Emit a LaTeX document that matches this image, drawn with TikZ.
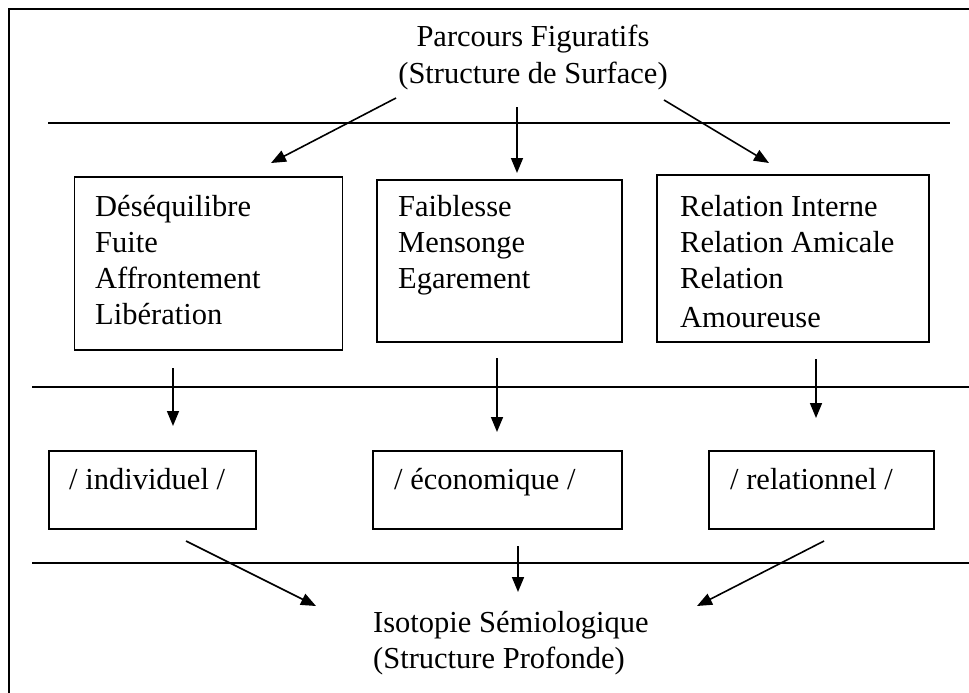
\documentclass[tikz,border=0pt]{standalone}
\usepackage{fontspec}
\setmainfont{Liberation Serif}
\usetikzlibrary{arrows.meta}
\begin{document}
\begin{tikzpicture}[x=1pt,y=-1pt,
  txt/.style={font=\fontsize{30.5}{36}\selectfont, inner sep=0pt},
  frm/.style={draw, line width=1.5pt, inner sep=0pt},
  rule/.style={line width=1.5pt},
  arr/.style={line width=1.6pt, -{Triangle[length=15pt,width=12pt]}}]
\useasboundingbox (0,0) rectangle (969,693);
% outer frame: only its top and left sides lie on the page
\draw[line width=2pt] (9,700) -- (9,9) -- (980,9);

% heading
\node[txt, anchor=base] (h1) at (533,47) {Parcours Figuratifs};
\node[txt, anchor=base] (h2) at (533,83) {(Structure de Surface)};

% closing caption
\node[txt, anchor=base west] (f1) at (373,632) {Isotopie Sémiologique};
\node[txt, anchor=base west] (f2) at (373,668) {(Structure Profonde)};

% separating rules
\draw[rule] (48,123) -- (950,123);
\draw[rule] (32,387) -- (975,387);
\draw[rule] (32,563) -- (975,563);

% upper boxes
\node[frm, minimum width=268pt, minimum height=173pt] (b1) at (208.5,263.5) {};
\node[frm, minimum width=245pt, minimum height=162pt] (b2) at (499.5,261) {};
\node[frm, minimum width=272pt, minimum height=167pt] (b3) at (793,258.5) {};

\node[txt, anchor=base west] (t11) at (95,216) {Déséquilibre};
\node[txt, anchor=base west] (t12) at (95,252) {Fuite};
\node[txt, anchor=base west] (t13) at (95,288) {Affrontement};
\node[txt, anchor=base west] (t14) at (95,324) {Libération};

\node[txt, anchor=base west] (t21) at (398,216) {Faiblesse};
\node[txt, anchor=base west] (t22) at (398,252) {Mensonge};
\node[txt, anchor=base west] (t23) at (398,288) {Egarement};

\node[txt, anchor=base west] (t31) at (680,216) {Relation Interne};
\node[txt, anchor=base west] (t32) at (680,252) {Relation Amicale};
\node[txt, anchor=base west] (t33) at (680,288) {Relation};
\node[txt, anchor=base west] (t34) at (680,327) {Amoureuse};

% lower boxes
\node[frm, minimum width=207pt, minimum height=78pt] (c1) at (152.5,490) {};
\node[frm, minimum width=249pt, minimum height=78pt] (c2) at (497.5,490) {};
\node[frm, minimum width=225pt, minimum height=78pt] (c3) at (821.5,490) {};
\node[txt, anchor=base west] (u1) at (69,489) {/ individuel /};
\node[txt, anchor=base west] (u2) at (394,489) {/ économique /};
\node[txt, anchor=base west] (u3) at (730,489) {/ relationnel /};

% arrow end points
\coordinate (a1s) at (396,98);  \coordinate (a1e) at (271,163);
\coordinate (a2s) at (517,107); \coordinate (a2e) at (517,173);
\coordinate (a3s) at (664,100); \coordinate (a3e) at (769,163);
\coordinate (d1s) at (173,368); \coordinate (d1e) at (173,426);
\coordinate (d2s) at (497,358); \coordinate (d2e) at (497,432);
\coordinate (d3s) at (816,359); \coordinate (d3e) at (816,418);
\coordinate (e1s) at (186,541); \coordinate (e1e) at (316,606);
\coordinate (e2s) at (518,546); \coordinate (e2e) at (518,592);
\coordinate (e3s) at (824,541); \coordinate (e3e) at (697,606);

\draw[arr] (a1s) -- (a1e);
\draw[arr] (a2s) -- (a2e);
\draw[arr] (a3s) -- (a3e);
\draw[arr] (d1s) -- (d1e);
\draw[arr] (d2s) -- (d2e);
\draw[arr] (d3s) -- (d3e);
\draw[arr] (e1s) -- (e1e);
\draw[arr] (e2s) -- (e2e);
\draw[arr] (e3s) -- (e3e);
\end{tikzpicture}
\end{document}
